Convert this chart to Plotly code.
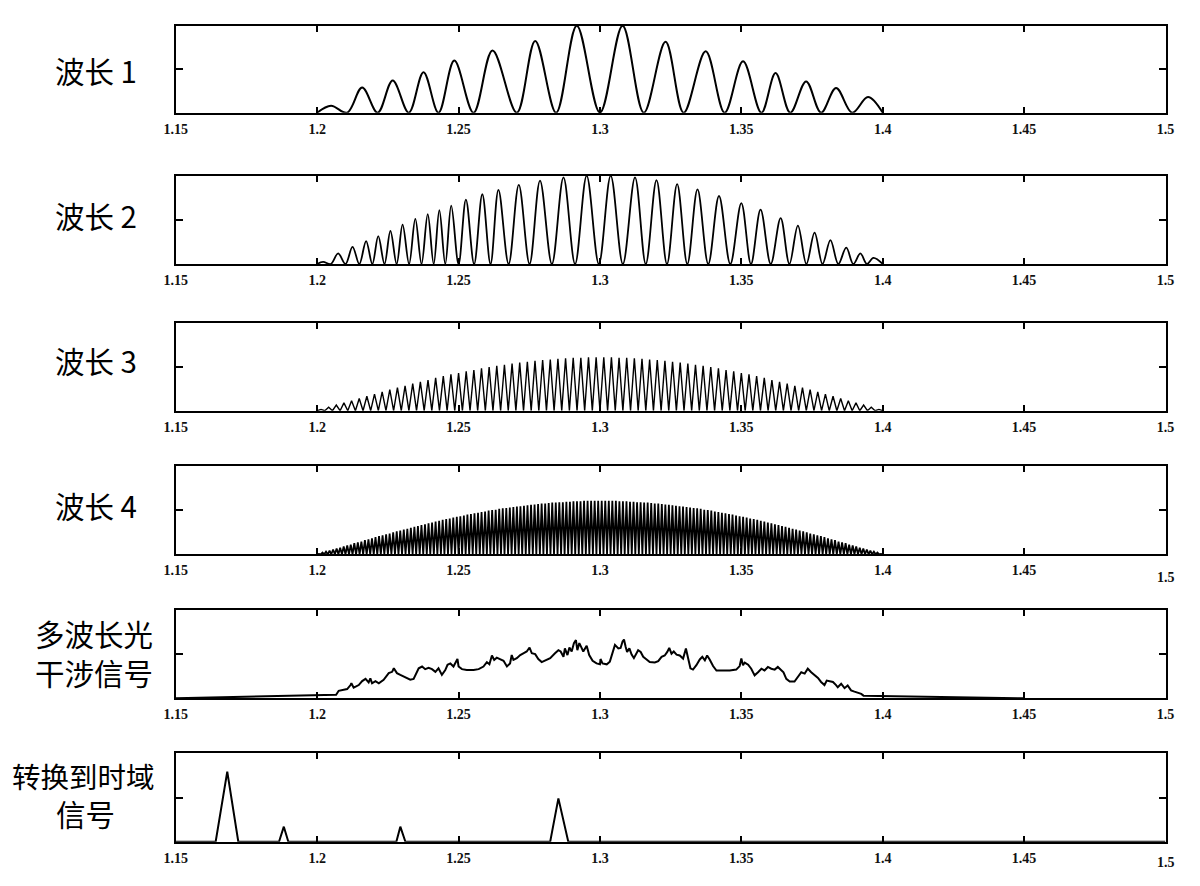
import plotly.graph_objects as go

# ---------------- data ----------------
tick_vals = [1.15, 1.2, 1.25, 1.3, 1.35, 1.4, 1.45, 1.5]
tick_text = ["1.15", "1.2", "1.25", "1.3", "1.35", "1.4", "1.45", "1.5"]

# Panel 1 (波长 1): fringe maxima and minima
w1_peak_x = [1.2049, 1.2159, 1.2267, 1.2376, 1.2485, 1.262, 1.2771, 1.2918,
             1.308, 1.3232, 1.3374, 1.3506, 1.3621, 1.3729, 1.3835, 1.3948]
w1_peak_y = [0.16, 0.58, 0.74, 0.93, 1.2, 1.43, 1.65, 2.0,
             2.0, 1.63, 1.41, 1.18, 0.91, 0.72, 0.57, 0.36]
w1_trough_x = [1.2, 1.2106, 1.2214, 1.2324, 1.2429, 1.2553, 1.2706, 1.2845, 1.3,
               1.3155, 1.3296, 1.3441, 1.3571, 1.3673, 1.3782, 1.3892, 1.4]

# Panel 2 (波长 2)
w2_peak_x = [1.2021, 1.2074, 1.2125, 1.2173, 1.2216, 1.2259, 1.2302, 1.2347, 1.2391,
             1.2432, 1.2474, 1.2526, 1.2584, 1.2641, 1.2713, 1.2788, 1.2871, 1.2953,
             1.3038, 1.3124, 1.32, 1.3273, 1.3345, 1.3421, 1.35, 1.3568, 1.3639,
             1.37, 1.3759, 1.3815, 1.3871, 1.3921, 1.3967]
w2_peak_y = [0.05, 0.24, 0.39, 0.52, 0.63, 0.75, 0.89, 1.02, 1.13,
             1.22, 1.32, 1.46, 1.58, 1.68, 1.79, 1.89, 1.96, 2.0,
             2.0, 1.96, 1.9, 1.81, 1.69, 1.54, 1.38, 1.23, 1.04,
             0.87, 0.71, 0.54, 0.37, 0.24, 0.14]
w2_trough_x = [1.2, 1.2048, 1.21, 1.2149, 1.2195, 1.2238, 1.2281, 1.2325, 1.2369,
               1.2412, 1.2453, 1.25, 1.2555, 1.2613, 1.2677, 1.2751, 1.283, 1.2912,
               1.2996, 1.3081, 1.3162, 1.3237, 1.3309, 1.3383, 1.3461, 1.3534, 1.3604,
               1.367, 1.373, 1.3787, 1.3843, 1.3896, 1.3944, 1.4]

# Panel 3 (波长 3): 74 fringe maxima, evenly sampled between 1.2 and 1.4
w3_start, w3_end = 1.2, 1.4
w3_peaks = [0.03, 0.08, 0.13, 0.18, 0.23, 0.28, 0.33, 0.38, 0.43, 0.48,
            0.53, 0.57, 0.62, 0.66, 0.70, 0.75, 0.79, 0.83, 0.86, 0.90,
            0.93, 0.97, 1.00, 1.03, 1.05, 1.08, 1.10, 1.12, 1.14, 1.16,
            1.17, 1.19, 1.20, 1.21, 1.21, 1.22, 1.22,
            1.22, 1.22, 1.21, 1.21, 1.20, 1.19, 1.17, 1.16, 1.14, 1.12,
            1.10, 1.08, 1.05, 1.03, 1.00, 0.97, 0.93, 0.90, 0.86, 0.83,
            0.79, 0.75, 0.70, 0.66, 0.62, 0.57, 0.53, 0.48, 0.43, 0.38,
            0.33, 0.28, 0.23, 0.18, 0.13, 0.08, 0.03]

# Panel 4 (波长 4): 160 fringe maxima, evenly sampled between 1.2 and 1.4
w4_start, w4_end = 1.2, 1.4
w4_peaks = [0.01, 0.04, 0.06, 0.08, 0.11, 0.13, 0.15, 0.18, 0.20, 0.22,
            0.25, 0.27, 0.29, 0.32, 0.34, 0.36, 0.39, 0.41, 0.43, 0.45,
            0.47, 0.50, 0.52, 0.54, 0.56, 0.58, 0.60, 0.62, 0.64, 0.66,
            0.68, 0.70, 0.72, 0.74, 0.76, 0.78, 0.80, 0.81, 0.83, 0.85,
            0.86, 0.88, 0.90, 0.91, 0.93, 0.94, 0.96, 0.97, 0.99, 1.00,
            1.01, 1.03, 1.04, 1.05, 1.06, 1.07, 1.08, 1.09, 1.10, 1.11,
            1.12, 1.13, 1.14, 1.15, 1.15, 1.16, 1.17, 1.17, 1.18, 1.18,
            1.19, 1.19, 1.20, 1.20, 1.20, 1.21, 1.21, 1.21, 1.21, 1.21,
            1.21, 1.21, 1.21, 1.21, 1.21, 1.20, 1.20, 1.20, 1.19, 1.19,
            1.18, 1.18, 1.17, 1.17, 1.16, 1.15, 1.15, 1.14, 1.13, 1.12,
            1.11, 1.10, 1.09, 1.08, 1.07, 1.06, 1.05, 1.04, 1.03, 1.01,
            1.00, 0.99, 0.97, 0.96, 0.94, 0.93, 0.91, 0.90, 0.88, 0.86,
            0.85, 0.83, 0.81, 0.80, 0.78, 0.76, 0.74, 0.72, 0.70, 0.68,
            0.66, 0.64, 0.62, 0.60, 0.58, 0.56, 0.54, 0.52, 0.50, 0.47,
            0.45, 0.43, 0.41, 0.39, 0.36, 0.34, 0.32, 0.29, 0.27, 0.25,
            0.22, 0.20, 0.18, 0.15, 0.13, 0.11, 0.08, 0.06, 0.04, 0.01]

# Panel 5 (多波长光干涉信号)
w5_x = [1.15, 1.2067, 1.2076, 1.2094, 1.2106, 1.2118, 1.2121, 1.2129, 1.2147, 1.2159,
        1.2171, 1.2182, 1.2188, 1.2194, 1.2206, 1.2218, 1.2235, 1.2253, 1.2265, 1.2271,
        1.2282, 1.2294, 1.2306, 1.2318, 1.2329, 1.2341, 1.2353, 1.2359, 1.2371, 1.2382,
        1.2394, 1.2406, 1.2418, 1.2429, 1.2441, 1.2453, 1.2461, 1.2471, 1.2482, 1.2492,
        1.2496, 1.25, 1.2512, 1.2529, 1.2553, 1.2571, 1.2588, 1.26, 1.2609, 1.2618,
        1.2626, 1.2635, 1.2647, 1.2659, 1.2671, 1.2682, 1.2688, 1.2694, 1.2706, 1.2718,
        1.2729, 1.2741, 1.2751, 1.2759, 1.2771, 1.2782, 1.2794, 1.2806, 1.2824, 1.2841,
        1.2853, 1.2861, 1.2871, 1.2876, 1.2885, 1.2892, 1.29, 1.2908, 1.2915, 1.292,
        1.2927, 1.2933, 1.2941, 1.2953, 1.2962, 1.2974, 1.2988, 1.3, 1.3002, 1.3009,
        1.3024, 1.3035, 1.3047, 1.3053, 1.3065, 1.3073, 1.308, 1.3085, 1.3091, 1.3096,
        1.3104, 1.3112, 1.312, 1.3127, 1.3135, 1.3144, 1.3153, 1.3165, 1.3176, 1.3194,
        1.3206, 1.3218, 1.3229, 1.3238, 1.3245, 1.3253, 1.3261, 1.3271, 1.3282, 1.3294,
        1.3304, 1.3312, 1.332, 1.3329, 1.3341, 1.3353, 1.3362, 1.3371, 1.3379, 1.3388,
        1.34, 1.3412, 1.3435, 1.3459, 1.3482, 1.3494, 1.35, 1.3506, 1.3512, 1.3524,
        1.3535, 1.3547, 1.3559, 1.3571, 1.3582, 1.3594, 1.3606, 1.3618, 1.3629, 1.3641,
        1.3649, 1.3659, 1.3671, 1.3688, 1.37, 1.3712, 1.3724, 1.3735, 1.3747, 1.3759,
        1.3771, 1.3782, 1.3794, 1.3802, 1.3812, 1.3824, 1.3835, 1.3841, 1.3853, 1.3865,
        1.3876, 1.3888, 1.39, 1.3912, 1.3924, 1.3932, 1.45]
w5_y = [0, 0.08, 0.17, 0.19, 0.21, 0.30, 0.34, 0.24, 0.30, 0.39,
        0.44, 0.36, 0.45, 0.34, 0.39, 0.34, 0.42, 0.57, 0.60, 0.68,
        0.57, 0.53, 0.49, 0.45, 0.42, 0.44, 0.60, 0.68, 0.72, 0.66,
        0.69, 0.66, 0.60, 0.68, 0.53, 0.64, 0.76, 0.79, 0.72, 0.83,
        0.89, 0.72, 0.66, 0.64, 0.64, 0.66, 0.72, 0.82, 0.77, 0.97,
        0.87, 0.92, 0.89, 0.85, 0.72, 0.79, 0.98, 0.87, 0.91, 0.98,
        1.02, 1.06, 1.15, 1.02, 1.00, 0.89, 0.82, 0.85, 0.91, 1.02,
        1.09, 1.06, 0.94, 1.13, 0.98, 1.15, 1.06, 1.25, 1.32, 1.09,
        1.25, 1.17, 1.06, 1.19, 0.98, 0.85, 0.79, 0.77, 0.89, 0.79,
        0.77, 0.83, 1.06, 1.21, 1.13, 1.14, 1.29, 1.33, 1.16, 1.05,
        1.13, 0.99, 0.91, 1.01, 1.09, 1.05, 0.94, 0.88, 0.82, 0.81,
        0.84, 0.94, 0.97, 1.05, 1.14, 1.01, 1.06, 0.99, 0.97, 0.90,
        1.13, 0.90, 0.68, 0.65, 0.75, 0.88, 0.94, 0.86, 0.97, 0.88,
        0.73, 0.63, 0.63, 0.63, 0.65, 0.73, 0.90, 0.75, 0.81, 0.76,
        0.67, 0.52, 0.59, 0.67, 0.63, 0.71, 0.67, 0.65, 0.71, 0.65,
        0.59, 0.44, 0.38, 0.38, 0.48, 0.59, 0.56, 0.67, 0.59, 0.52,
        0.46, 0.37, 0.30, 0.40, 0.38, 0.37, 0.30, 0.25, 0.33, 0.23,
        0.29, 0.18, 0.15, 0.12, 0.10, 0.06, 0]

# Panel 6 (转换到时域信号)
w6_x = [1.15, 1.1641, 1.1682, 1.1721, 1.1865, 1.1882, 1.1898,
        1.228, 1.2294, 1.2312, 1.2824, 1.2853, 1.2888, 1.5]
w6_y = [0, 0, 1.585, 0, 0, 0.34, 0, 0, 0.34, 0, 0, 0.98, 0, 0]

panel_labels = [["波长 1"], ["波长 2"], ["波长 3"], ["波长 4"],
                ["多波长光", "干涉信号"], ["转换到时域", "信号"]]

# ---------------- layout geometry (screen pixels) ----------------
PAGE_OFF = 8                     # default body margin of the page
W, H = 1200 - 2 * PAGE_OFF, 886 - 2 * PAGE_OFF
X_LEFT, X_RIGHT = 175.8, 1165.5
panel_px = [(25.7, 112.7), (175.7, 264.0), (323.3, 410.7),
            (466.0, 554.3), (610.0, 698.3), (753.3, 841.7)]
label_px = [[(96, 70, 29.5)], [(96, 215, 29.5)], [(96, 360, 29.5)],
            [(96, 505, 29.5)],
            [(94, 633, 29.5), (94, 672, 29.5)],
            [(83, 775, 28.5), (85, 813, 29.5)]]


def fx(px):
    return (px - PAGE_OFF) / W


def fy(py):
    return 1 - (py - PAGE_OFF) / H


def interleave(troughs, peak_x, peak_y):
    xs, ys = [], []
    for i, px in enumerate(peak_x):
        xs += [troughs[i], px]
        ys += [0, peak_y[i]]
    xs.append(troughs[-1])
    ys.append(0)
    return xs, ys


def zigzag(start, end, peaks):
    n = len(peaks)
    step = (end - start) / (2 * n)
    xs, ys = [], []
    for i, p in enumerate(peaks):
        xs += [start + 2 * i * step, start + (2 * i + 1) * step]
        ys += [0, p]
    xs.append(end)
    ys.append(0)
    return xs, ys


series = []
series.append(interleave(w1_trough_x, w1_peak_x, w1_peak_y) + ("spline", 2.0))
series.append(interleave(w2_trough_x, w2_peak_x, w2_peak_y) + ("spline", 1.8))
series.append(zigzag(w3_start, w3_end, w3_peaks) + ("linear", 1.4))
series.append(zigzag(w4_start, w4_end, w4_peaks) + ("linear", 1.8))
series.append((w5_x, w5_y, "linear", 2.0))
series.append((w6_x, w6_y, "linear", 2.0))

TICK_FONT = dict(family="Liberation Serif", size=14, color="#111111",
                 weight="bold")

fig = go.Figure()
layout = dict(width=W, height=H,
              margin=dict(l=0, r=0, t=0, b=0, pad=0, autoexpand=False),
              paper_bgcolor="white", plot_bgcolor="white", showlegend=False)
annotations = []

for i, (xs, ys, shape, lw) in enumerate(series):
    n = "" if i == 0 else str(i + 1)
    line = dict(color="black", width=lw, shape=shape)
    if shape == "spline":
        line["smoothing"] = 1.0
    fig.add_trace(go.Scatter(x=xs, y=ys, mode="lines", line=line,
                             xaxis="x" + n, yaxis="y" + n, hoverinfo="skip"))
    top, bot = panel_px[i]
    lower_last = i in (3, 5)
    tv = tick_vals[:-1] if lower_last else tick_vals
    tt = tick_text[:-1] if lower_last else tick_text
    layout["xaxis" + n] = dict(
        domain=[fx(X_LEFT), fx(X_RIGHT)], anchor="y" + n, range=[1.15, 1.5],
        tickmode="array", tickvals=tv, ticktext=tt, ticks="inside", ticklen=6,
        tickwidth=1.5, tickcolor="black", showline=True, linecolor="black",
        linewidth=2, mirror="ticks", showgrid=False, zeroline=False,
        automargin=False, ticklabelstandoff=2, tickfont=TICK_FONT)
    layout["yaxis" + n] = dict(
        domain=[fy(bot), fy(top)], anchor="x" + n, range=[0, 2],
        tickmode="array", tickvals=[1], showticklabels=False, ticks="inside",
        ticklen=7, tickwidth=1.5, tickcolor="black", showline=True,
        linecolor="black", linewidth=2, mirror="ticks", showgrid=False,
        zeroline=False, automargin=False)
    if lower_last:
        extra = 8 if i == 3 else 5
        annotations.append(dict(
            x=1.5, xref="x" + n, y=fy(bot + 15.5 + extra), yref="paper",
            text=tick_text[-1], showarrow=False, xanchor="center",
            yanchor="middle", font=TICK_FONT))
    for txt, (lx, ly, fs) in zip(panel_labels[i], label_px[i]):
        annotations.append(dict(
            x=fx(lx), y=fy(ly), xref="paper", yref="paper", text=txt,
            showarrow=False, xanchor="center", yanchor="middle",
            font=dict(family="Noto Sans CJK SC", size=fs, color="black")))

layout["annotations"] = annotations
fig.update_layout(**layout)
fig.write_html("out.html")
